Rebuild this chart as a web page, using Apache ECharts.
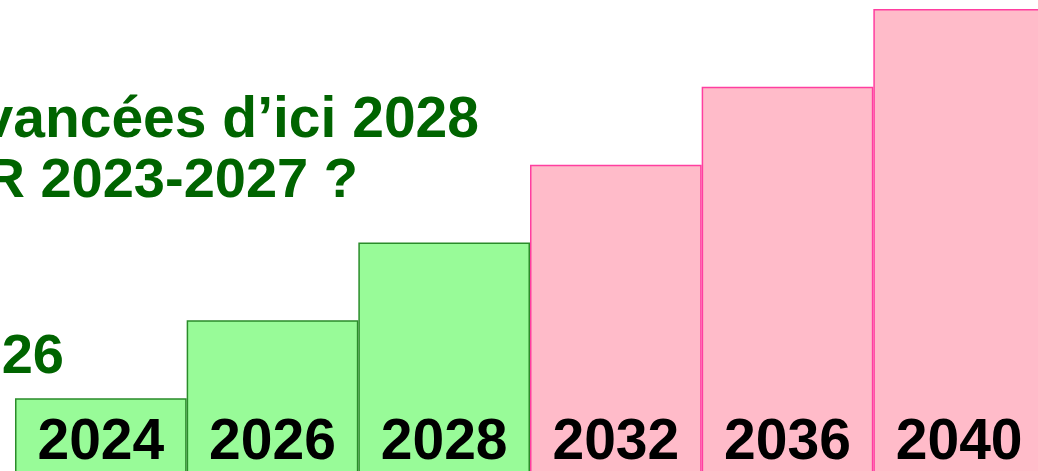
<!DOCTYPE html>
<html>
<head>
<meta charset="utf-8">
<script src="https://cdn.jsdelivr.net/npm/echarts@6/dist/echarts.min.js"></script>
<style>
  html, body { margin: 0; padding: 0; background: #fff; }
  #chart { width: 1038px; height: 471px; }
</style>
</head>
<body>
<div id="chart"></div>
<script>
// 数据
const years = ['2024', '2026', '2028', '2032', '2036', '2040'];
const levels = [1, 2, 3, 4, 5, 6];
const kinds = ['done', 'done', 'done', 'future', 'future', 'future'];
const titleLines = ['avancées d’ici 2028', 'R 2023-2027 ?', '2026'];

const fills = { done: '#98fb98', future: '#ffbbc9' };
const borders = { done: '#2a8c2a', future: '#ff3ea0' };

const myChart = echarts.init(document.getElementById('chart'));

const option = {
    animation: false,
    grid: { left: 15, top: 9, width: 1030, height: 467, outerBoundsMode: 'none', containLabel: false },
    xAxis: {
        type: 'category',
        data: years,
        show: false
    },
    yAxis: {
        type: 'value',
        min: 0,
        max: 6,
        show: false
    },
    series: [{
        type: 'bar',
        barCategoryGap: '0%',
        data: levels.map((v, i) => ({
            value: v,
            itemStyle: {
                color: fills[kinds[i]],
                borderColor: borders[kinds[i]],
                borderWidth: 1.5
            }
        })),
        label: {
            show: true,
            position: 'insideBottom',
            distance: 4,
            formatter: (p) => p.name,
            color: '#000',
            fontSize: 57,
            fontWeight: 'bold',
            fontFamily: 'Liberation Sans'
        }
    }],
    graphic: [
        {
            type: 'text', right: 1038 - 479, top: 93,
            style: { text: titleLines[0], fill: '#006400', font: 'bold 57px "Liberation Sans"' }
        },
        {
            type: 'text', right: 1038 - 358, top: 154,
            style: { text: titleLines[1], fill: '#006400', font: 'bold 56px "Liberation Sans"' }
        },
        {
            type: 'text', right: 1038 - 64, top: 330,
            style: { text: titleLines[2], fill: '#006400', font: 'bold 56px "Liberation Sans"' }
        }
    ]
};

myChart.setOption(option);
</script>
</body>
</html>
